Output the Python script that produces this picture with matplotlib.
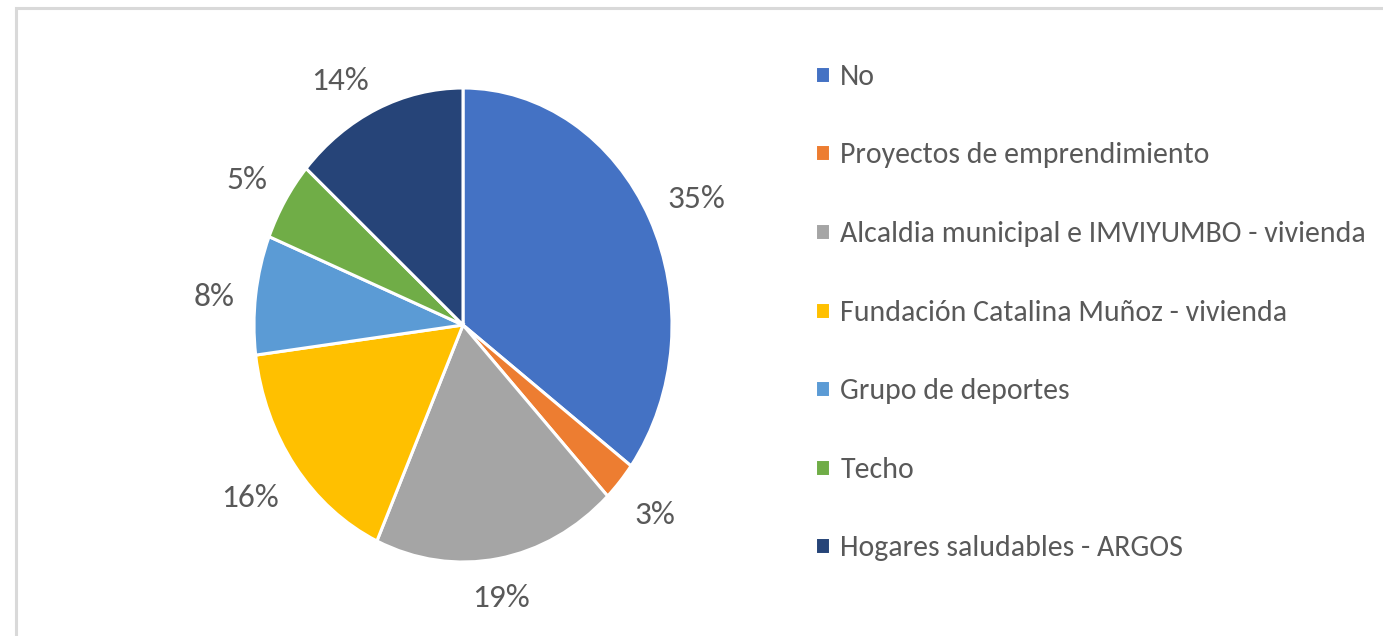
import matplotlib
matplotlib.use("Agg")
import numpy as np
import matplotlib.pyplot as plt
from matplotlib.patches import Rectangle
from matplotlib.transforms import ScaledTranslation

categories = ["No", "Proyectos de emprendimiento", "Alcaldia municipal e IMVIYUMBO - vivienda",
              "Fundación Catalina Muñoz - vivienda", "Grupo de deportes", "Techo",
              "Hogares saludables - ARGOS"]
values = [13, 1, 7, 6, 3, 2, 5]
colors = ["#4472C4", "#ED7D31", "#A5A5A5", "#FFC000", "#5B9BD5", "#70AD47", "#264478"]

W, H = 1383, 636
DPI = 100
fig = plt.figure(figsize=(W / DPI, H / DPI), dpi=DPI)
fig.patch.set_facecolor("white")

FONT = ["Carlito", "DejaVu Sans"]
TXT = "#595959"

# border
fig.add_artist(Rectangle((16 / W, -0.1), 1.2, (636 - 8) / H + 0.1, transform=fig.transFigure,
                         fill=False, edgecolor="#D9D9D9", linewidth=2.2))

cx, cy, rx, ry = 463, 325, 209, 237
k = 1.3
ax = fig.add_axes([(cx - rx * k) / W, (H - cy - ry * k) / H, 2 * rx * k / W, 2 * ry * k / H])
wedges, texts, autotexts = ax.pie(values, colors=colors, startangle=90, counterclock=False,
                                  autopct="%.0f%%", pctdistance=1.22,
                                  wedgeprops=dict(edgecolor="white", linewidth=2.2),
                                  textprops=dict(color=TXT, fontsize=24, family=FONT))
ax.set_aspect("auto")
ax.set_xlim(-k, k)
ax.set_ylim(-k, k)
ax.axis("off")

# place data labels just outside the edge, Excel-like
gap = 21  # pixels
drop = 5  # pixels
for w, t in zip(wedges, autotexts):
    th = np.deg2rad((w.theta1 + w.theta2) / 2)
    c, s = np.cos(th), np.sin(th)
    d = np.array([rx * c, ry * s])
    d = d / np.hypot(*d)
    t.set_position((c, s))
    t.set_transform(ax.transData + ScaledTranslation(gap * d[0] / DPI, (gap * d[1] - drop) / DPI,
                                                     fig.dpi_scale_trans))
    t.set_ha("left" if c > 0.3 else ("right" if c < -0.3 else "center"))
    t.set_va("bottom" if s > 0.3 else ("top" if s < -0.3 else "center"))

leg = fig.legend(wedges, categories, loc="upper left", bbox_to_anchor=(803 / W, 1 - 52 / H),
                 frameon=False, prop=dict(family=FONT, size=21.5), labelcolor=TXT,
                 handlelength=0.5, handleheight=0.5, handletextpad=0.35,
                 labelspacing=1.76, borderaxespad=0)

fig.savefig("out.png", dpi=DPI, facecolor="white")
